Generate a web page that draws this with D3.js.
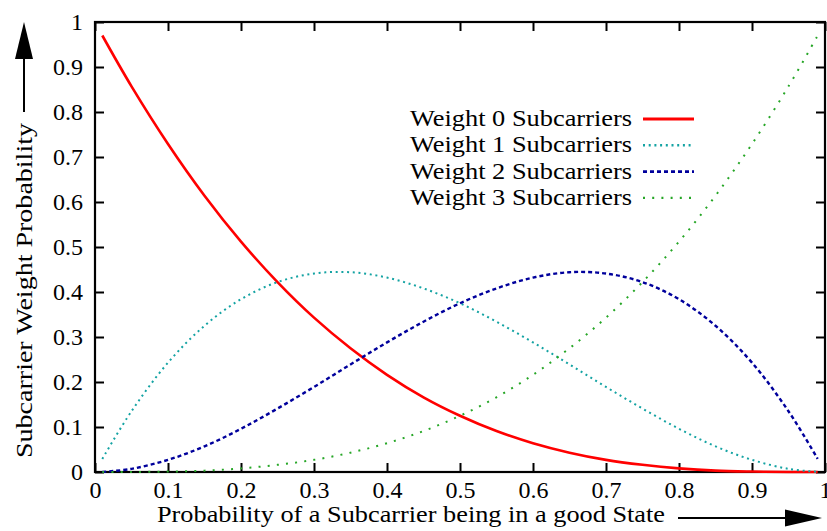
<!DOCTYPE html>
<html>
<head>
<meta charset="utf-8">
<script src="https://cdn.jsdelivr.net/npm/d3@7"></script>
<style>
  body { margin: 0; background: #fff; }
</style>
</head>
<body>
<svg id="chart" width="827" height="531"></svg>
<script>
// probability of a subcarrier being in a good state (x axis samples)
const pGood = [0.01, 0.05, 0.10, 0.15, 0.20, 0.25, 0.30, 0.35, 0.40, 0.45, 0.50,
               0.55, 0.60, 0.65, 0.70, 0.75, 0.80, 0.85, 0.90, 0.95, 0.99];

// values
const weight0 = [0.970, 0.857, 0.729, 0.614, 0.512, 0.422, 0.343, 0.275, 0.216, 0.166, 0.125,
                 0.091, 0.064, 0.043, 0.027, 0.016, 0.008, 0.003, 0.001, 0.0001, 0.0];
const weight1 = [0.029, 0.135, 0.243, 0.325, 0.384, 0.422, 0.441, 0.444, 0.432, 0.408, 0.375,
                 0.334, 0.288, 0.239, 0.189, 0.141, 0.096, 0.057, 0.027, 0.007, 0.0003];
const weight2 = [0.0003, 0.007, 0.027, 0.057, 0.096, 0.141, 0.189, 0.239, 0.288, 0.334, 0.375,
                 0.408, 0.432, 0.444, 0.441, 0.422, 0.384, 0.325, 0.243, 0.135, 0.029];
const weight3 = [0.0, 0.0001, 0.001, 0.003, 0.008, 0.016, 0.027, 0.043, 0.064, 0.091, 0.125,
                 0.166, 0.216, 0.275, 0.343, 0.422, 0.512, 0.614, 0.729, 0.857, 0.970];

const seriesNames = ["Weight 0 Subcarriers", "Weight 1 Subcarriers",
                     "Weight 2 Subcarriers", "Weight 3 Subcarriers"];
const xTicks = [0, 0.1, 0.2, 0.3, 0.4, 0.5, 0.6, 0.7, 0.8, 0.9, 1];
const yTicks = [0, 0.1, 0.2, 0.3, 0.4, 0.5, 0.6, 0.7, 0.8, 0.9, 1];

const styles = [
    {color: "#ff0000", width: 2.6, dash: null},
    {color: "#14a3a3", width: 2, dash: "2,3.7"},
    {color: "#00009c", width: 2.4, dash: "4,3"},
    {color: "#26a626", width: 2, dash: "2,7.2"}
];

const margin = {top: 22, right: 2, bottom: 59, left: 95};
const width = 827 - margin.left - margin.right;
const height = 531 - margin.top - margin.bottom;
const fontSize = 23;
const tickFont = 24;
const serif = "'Liberation Serif', 'Times New Roman', Times, serif";

const svg = d3.select("#chart");
const g = svg.append("g").attr("transform", "translate(" + margin.left + "," + margin.top + ")");

const x = d3.scaleLinear().domain([0, 1]).range([0, width]);
const y = d3.scaleLinear().domain([0, 1]).range([height, 0]);

// axes with inward ticks on all sides
const fmt = d => d === 0 || d === 1 ? String(d) : d3.format(".1f")(d);
const tick = 9;

const styleAxis = (sel) => {
    sel.attr("font-family", null).attr("font-size", null);
    sel.select(".domain").remove();
    sel.selectAll(".tick line").attr("stroke", "#000").attr("stroke-width", 2);
    sel.selectAll(".tick text")
        .style("font-family", serif)
        .style("font-size", tickFont + "px")
        .attr("fill", "#000");
};

g.append("g").attr("transform", "translate(0," + height + ")")
    .call(d3.axisBottom(x).tickValues(xTicks).tickFormat(fmt).tickSizeInner(-tick).tickSizeOuter(0))
    .call(styleAxis)
    .call(s => s.selectAll(".tick text").attr("dy", 0).attr("y", 26));

g.append("g")
    .call(d3.axisTop(x).tickValues(xTicks).tickFormat("").tickSizeInner(-tick).tickSizeOuter(0))
    .call(styleAxis);

g.append("g")
    .call(d3.axisLeft(y).tickValues(yTicks).tickFormat(fmt).tickSizeInner(-tick).tickSizeOuter(0))
    .call(styleAxis)
    .call(s => s.selectAll(".tick text").attr("x", -12));

g.append("g").attr("transform", "translate(" + width + ",0)")
    .call(d3.axisRight(y).tickValues(yTicks).tickFormat("").tickSizeInner(-tick).tickSizeOuter(0))
    .call(styleAxis);

// frame
g.append("rect")
    .attr("width", width).attr("height", height)
    .attr("fill", "none").attr("stroke", "#000").attr("stroke-width", 2.2);

// curves
const allSeries = [weight0, weight1, weight2, weight3];
const line = d3.line()
    .x((d, i) => x(pGood[i]))
    .y(d => y(d))
    .curve(d3.curveCatmullRom.alpha(0.5));

const plot = g.append("g");
allSeries.forEach((vals, k) => {
    plot.append("path")
        .datum(vals)
        .attr("fill", "none")
        .attr("stroke", styles[k].color)
        .attr("stroke-width", styles[k].width)
        .attr("stroke-dasharray", styles[k].dash)
        .attr("d", line);
});

// legend
const legend = g.append("g")
    .selectAll("g")
    .data(seriesNames)
    .enter()
    .append("g")
    .attr("transform", (d, i) => "translate(0," + (97 + i * 26.3) + ")");

legend.append("text")
    .attr("x", 537)
    .attr("y", 7)
    .attr("text-anchor", "end")
    .style("font-family", serif)
    .style("font-size", fontSize + "px")
    .attr("textLength", 222)
    .attr("lengthAdjust", "spacingAndGlyphs")
    .text(d => d);

legend.append("line")
    .attr("x1", 548).attr("x2", 599)
    .attr("stroke", (d, i) => styles[i].color)
    .attr("stroke-width", (d, i) => styles[i].width + 0.4)
    .attr("stroke-dasharray", (d, i) => styles[i].dash);

// axis titles with arrows
svg.append("text")
    .attr("x", 157).attr("y", 522)
    .style("font-family", serif)
    .style("font-size", fontSize + "px")
    .attr("textLength", 508)
    .attr("lengthAdjust", "spacingAndGlyphs")
    .text("Probability of a Subcarrier being in a good State");

svg.append("line")
    .attr("x1", 678).attr("x2", 790).attr("y1", 518).attr("y2", 518)
    .attr("stroke", "#000").attr("stroke-width", 2);
svg.append("path")
    .attr("d", "M785,509.5 L822,518 L785,526.5 Z")
    .attr("fill", "#000");

svg.append("text")
    .attr("transform", "translate(32,290.5) rotate(-90)")
    .attr("text-anchor", "middle")
    .style("font-family", serif)
    .style("font-size", fontSize + "px")
    .attr("textLength", 335)
    .attr("lengthAdjust", "spacingAndGlyphs")
    .text("Subcarrier Weight Probability");

svg.append("line")
    .attr("x1", 24).attr("x2", 24).attr("y1", 112).attr("y2", 55)
    .attr("stroke", "#000").attr("stroke-width", 2);
svg.append("path")
    .attr("d", "M15,59 L24,22 L33,59 Z")
    .attr("fill", "#000");
</script>
</body>
</html>
